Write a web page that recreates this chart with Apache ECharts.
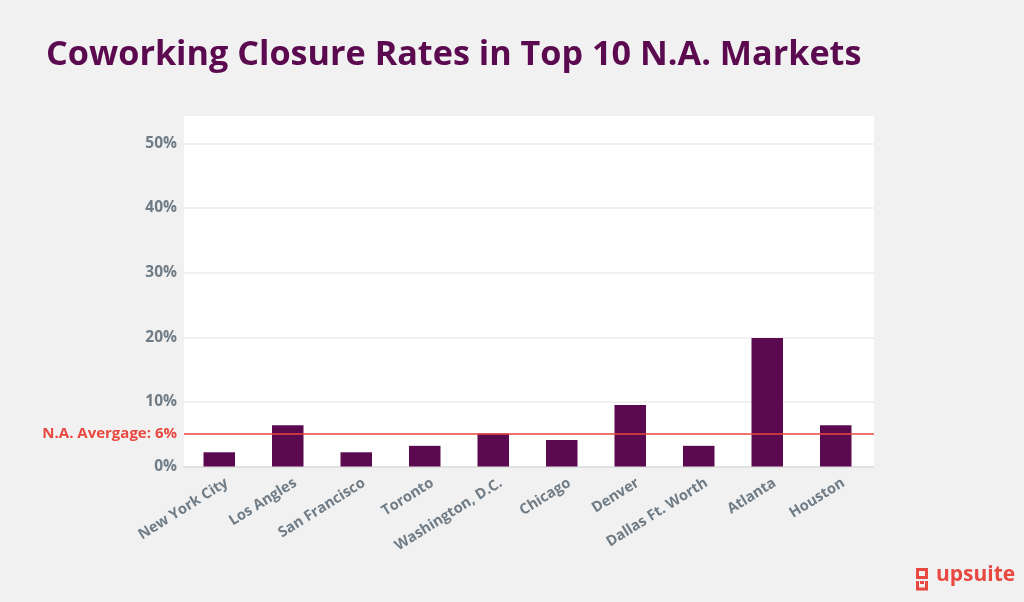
<!DOCTYPE html>
<html>
<head>
<meta charset="utf-8">
<style>
  html, body { margin: 0; padding: 0; background: #f1f1f1; }
  #chart { width: 1024px; height: 602px; }
</style>
<script src="https://cdn.jsdelivr.net/npm/echarts@6/dist/echarts.min.js"></script>
</head>
<body>
<div id="chart"></div>
<script>
var markets = ['New York City', 'Los Angles', 'San Francisco', 'Toronto', 'Washington, D.C.', 'Chicago', 'Denver', 'Dallas Ft. Worth', 'Atlanta', 'Houston'];
var closureRates = [2.2, 6.4, 2.2, 3.2, 5.1, 4.1, 9.5, 3.2, 19.9, 6.4];
var averageLine = 5.03;
var averageLabel = 'N.A. Avergage: 6%';

var FONT = '"Open Sans", sans-serif';
var PURPLE = '#5c0a50';
var GREY = '#6f7c86';
var RED = '#e8483f';

var chart = echarts.init(document.getElementById('chart'));

// two grids: the white panel with the y axis, and a slightly narrower one for the bars
chart.setOption({
    animation: false,
    backgroundColor: '#f1f1f1',
    title: {
        text: 'Coworking Closure Rates in Top 10 N.A. Markets',
        left: 41,
        top: 33,
        textStyle: {color: PURPLE, fontFamily: FONT, fontWeight: 700, fontSize: 34.2}
    },
    grid: [
        {left: 184, top: 116, width: 690, height: 350.5, show: true, backgroundColor: '#fff', borderWidth: 0},
        {left: 185, top: 116, width: 685, height: 350.5}
    ],
    xAxis: [
        {
            type: 'category',
            gridIndex: 0,
            data: markets,
            axisLine: {show: true, lineStyle: {color: '#dcdcdc', width: 1.5}},
            axisTick: {show: false},
            axisLabel: {show: false}
        },
        {
            type: 'category',
            gridIndex: 1,
            data: markets,
            axisLine: {show: false},
            axisTick: {show: false},
            axisLabel: {
                interval: 0,
                rotate: 32,
                margin: 20,
                padding: [0, -9, 0, 0],
                color: GREY,
                fontFamily: FONT,
                fontWeight: 700,
                fontSize: 14.6
            }
        }
    ],
    yAxis: [
        {
            type: 'value',
            gridIndex: 0,
            min: 0,
            max: 54.25,
            interval: 10,
            axisLine: {show: false},
            axisTick: {show: false},
            axisLabel: {
                showMaxLabel: false,
                margin: 7,
                formatter: '{value}%',
                color: GREY,
                fontFamily: FONT,
                fontWeight: 700,
                fontSize: 15.5
            },
            splitLine: {show: true, showMaxLine: false, lineStyle: {color: '#f1f1f1', width: 2}}
        },
        {
            type: 'value',
            gridIndex: 1,
            min: 0,
            max: 54.25,
            interval: 10,
            axisLine: {show: false},
            axisTick: {show: false},
            axisLabel: {show: false},
            splitLine: {show: false}
        }
    ],
    series: [
        {
            type: 'bar',
            xAxisIndex: 1,
            yAxisIndex: 1,
            data: closureRates,
            barWidth: 31.5,
            itemStyle: {color: PURPLE},
            z: 2
        },
        {
            // empty series, only carries the average line
            type: 'bar',
            xAxisIndex: 0,
            yAxisIndex: 0,
            data: [],
            z: 5,
            markLine: {
                silent: true,
                symbol: 'none',
                z: 10,
                lineStyle: {color: RED, width: 1.5, type: 'solid'},
                label: {
                    position: 'start',
                    distance: 7,
                    formatter: averageLabel,
                    color: RED,
                    fontFamily: FONT,
                    fontWeight: 700,
                    fontSize: 15
                },
                data: [{yAxis: averageLine}]
            }
        }
    ],
    graphic: [
        // logo mark
        {type: 'rect', shape: {x: 917.5, y: 569.5, width: 9, height: 8}, style: {fill: 'none', stroke: RED, lineWidth: 3}},
        {type: 'polyline', shape: {points: [[917.5, 581], [917.5, 589], [926.5, 589], [926.5, 581]]}, style: {fill: 'none', stroke: RED, lineWidth: 3}},
        {type: 'rect', shape: {x: 920, y: 581, width: 4, height: 3}, style: {fill: RED}},
        {
            type: 'text',
            left: 936,
            top: 565,
            style: {text: 'upsuite', fill: RED, font: '700 21px ' + FONT}
        }
    ]
});
</script>
</body>
</html>
